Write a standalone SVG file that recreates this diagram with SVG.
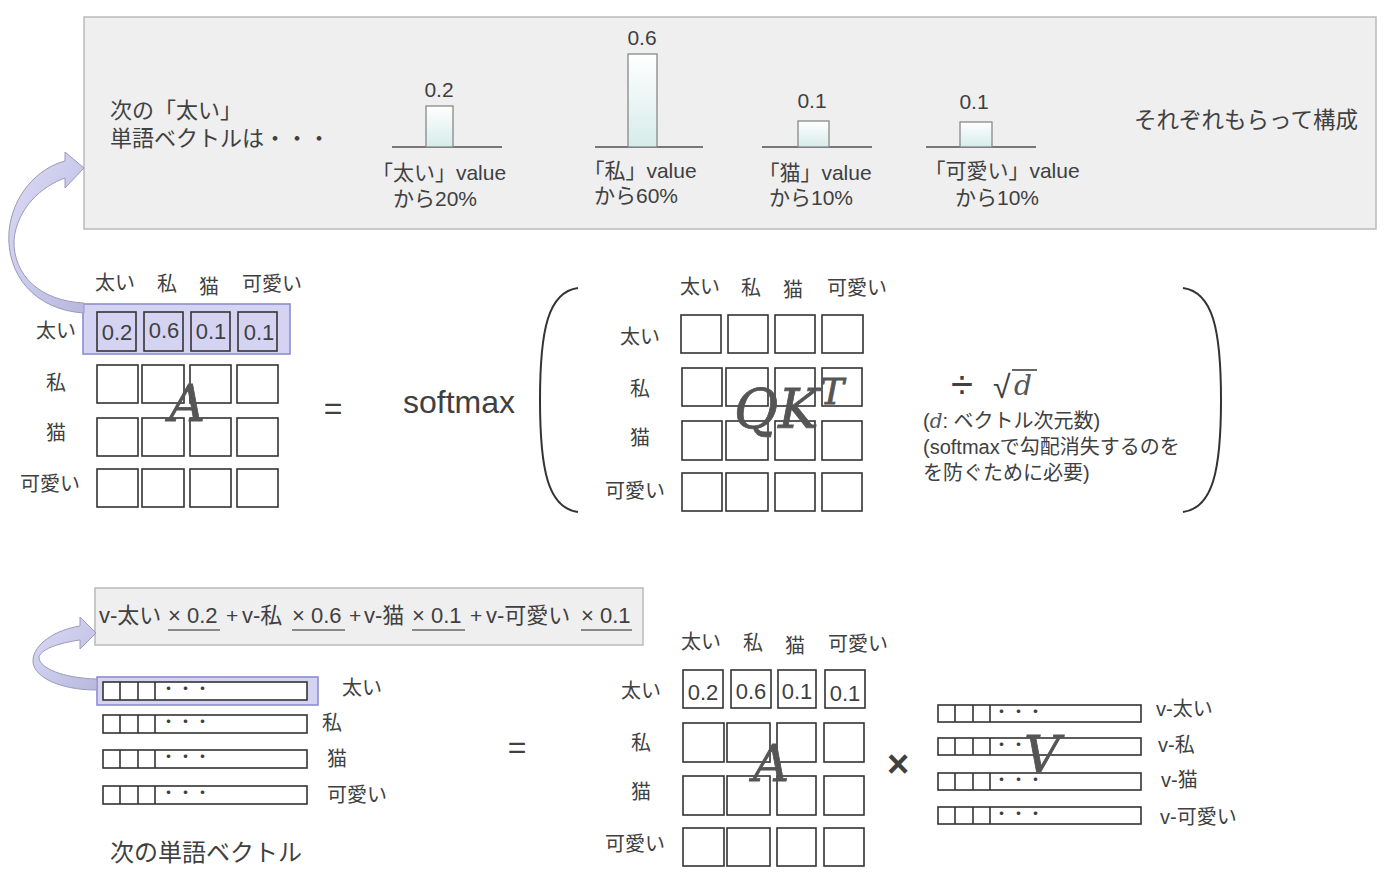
<svg xmlns="http://www.w3.org/2000/svg" width="1400" height="889" viewBox="0 0 1400 889">
<defs>
<linearGradient id="barg" x1="0" y1="0" x2="0" y2="1">
<stop offset="0" stop-color="#ffffff"/>
<stop offset="1" stop-color="#d6ecea"/>
</linearGradient>
<linearGradient id="arrg" x1="0" y1="0" x2="1" y2="1">
<stop offset="0" stop-color="#dcdcf6"/>
<stop offset="1" stop-color="#b8b8e0"/>
</linearGradient>
<style>
text{font-family:"Liberation Sans","Noto Sans CJK JP",sans-serif;fill:#404040;}
.t20{font-size:20px;}
.t21{font-size:21px;}
.t22{font-size:22px;}
.mid{text-anchor:middle;}
.math{font-family:"DejaVu Serif","Liberation Serif",serif;font-style:italic;fill:#555;}
.big{stroke:#555;stroke-width:0.8;}
.plus{font-size:21px;}
.cell{fill:#fff;stroke:#333;stroke-width:1.6;}
.hcell{fill:#d4d4f2;stroke:#333;stroke-width:1.6;}
.hl{fill:#d4d4f2;stroke:#8c8cd0;stroke-width:1.6;}
.bar{fill:url(#barg);stroke:#888;stroke-width:1.3;}
.base{stroke:#777;stroke-width:2;}
.vec{fill:#fff;stroke:#333;stroke-width:1.6;}
.vdiv{stroke:#333;stroke-width:1.6;}
.dots{font-size:17px;}
.paren{fill:none;stroke:#333;stroke-width:2;}
.ul{stroke:#666;stroke-width:1.6;}
.arrow{fill:url(#arrg);stroke:#9a9ab8;stroke-width:1;}
</style>
</defs>

<g id="top-panel">
<rect x="84" y="17" width="1292" height="212" fill="#efefef" stroke="#bbb" stroke-width="1.5"/>
<text class="t22" x="110" y="118">次の「太い」</text>
<text class="t22" x="110" y="146">単語ベクトルは・・・</text>
<text x="1134" y="128" font-size="22.5">それぞれもらって構成</text>
</g>

<g id="bar-futoi">
<line class="base" x1="392" y1="147" x2="502" y2="147"/>
<rect class="bar" x="426" y="106" width="27" height="41"/>
<text class="t21 mid" x="439" y="97">0.2</text>
<text class="t21 mid" x="439" y="180">「太い」value</text>
<text class="t21 mid" x="435" y="206">から20%</text>
</g>
<g id="bar-watashi">
<line class="base" x1="595" y1="147" x2="703" y2="147"/>
<rect class="bar" x="628" y="54" width="29" height="93"/>
<text class="t21 mid" x="642" y="45">0.6</text>
<text class="t21 mid" x="640" y="178">「私」value</text>
<text class="t21 mid" x="636" y="203">から60%</text>
</g>
<g id="bar-neko">
<line class="base" x1="762" y1="147" x2="872" y2="147"/>
<rect class="bar" x="798" y="121" width="31" height="26"/>
<text class="t21 mid" x="812" y="108">0.1</text>
<text class="t21 mid" x="815" y="180">「猫」value</text>
<text class="t21 mid" x="811" y="205">から10%</text>
</g>
<g id="bar-kawaii">
<line class="base" x1="926" y1="147" x2="1036" y2="147"/>
<rect class="bar" x="960" y="122" width="32" height="25"/>
<text class="t21 mid" x="974" y="109">0.1</text>
<text class="t21 mid" x="1002" y="178">「可愛い」value</text>
<text class="t21 mid" x="997" y="205">から10%</text>
</g>

<g id="matrix-A-top">
<rect class="hl" x="83" y="304" width="207" height="50"/>
<text class="t20 mid" x="115" y="290">太い</text>
<text class="t20 mid" x="167" y="291">私</text>
<text class="t20 mid" x="209" y="294">猫</text>
<text class="t20 mid" x="272" y="291">可愛い</text>
<text class="t20 mid" x="56" y="338">太い</text>
<text class="t20 mid" x="56" y="390">私</text>
<text class="t20 mid" x="56" y="440">猫</text>
<text class="t20 mid" x="50" y="491">可愛い</text>
<rect class="hcell" x="97" y="312" width="39" height="39"/>
<rect class="hcell" x="144" y="312" width="39" height="39"/>
<rect class="hcell" x="191" y="312" width="39" height="39"/>
<rect class="hcell" x="238" y="312" width="39" height="39"/>
<text class="t22 mid" x="117" y="340">0.2</text>
<text class="t22 mid" x="164" y="338">0.6</text>
<text class="t22 mid" x="211" y="339">0.1</text>
<text class="t22 mid" x="259" y="340">0.1</text>
<rect class="cell" x="97" y="365" width="41" height="38"/>
<rect class="cell" x="142" y="365" width="42" height="38"/>
<rect class="cell" x="190" y="365" width="41" height="38"/>
<rect class="cell" x="237" y="365" width="41" height="38"/>
<rect class="cell" x="97" y="418" width="41" height="38"/>
<rect class="cell" x="142" y="418" width="42" height="38"/>
<rect class="cell" x="190" y="418" width="41" height="38"/>
<rect class="cell" x="237" y="418" width="41" height="38"/>
<rect class="cell" x="97" y="469" width="41" height="38"/>
<rect class="cell" x="142" y="469" width="42" height="38"/>
<rect class="cell" x="190" y="469" width="41" height="38"/>
<rect class="cell" x="237" y="469" width="41" height="38"/>
<text class="math big mid" x="187" y="421" font-size="50">A</text>
</g>

<g id="softmax-eq">
<text class="mid" x="333" y="419" font-size="32">=</text>
<text x="403" y="413" font-size="32">softmax</text>
<path class="paren" d="M578,288 C548,292 540,330 540,400 C540,470 548,508 578,512"/>
<path class="paren" d="M1183,288 C1213,292 1221,330 1221,400 C1221,470 1213,508 1183,512"/>
</g>

<g id="matrix-QKT">
<text class="t20 mid" x="700" y="294">太い</text>
<text class="t20 mid" x="751" y="295">私</text>
<text class="t20 mid" x="793" y="297">猫</text>
<text class="t20 mid" x="857" y="295">可愛い</text>
<text class="t20 mid" x="640" y="344">太い</text>
<text class="t20 mid" x="640" y="396">私</text>
<text class="t20 mid" x="640" y="445">猫</text>
<text class="t20 mid" x="635" y="498">可愛い</text>
<rect class="cell" x="681" y="315" width="40" height="38"/>
<rect class="cell" x="728" y="315" width="40" height="38"/>
<rect class="cell" x="775" y="315" width="40" height="38"/>
<rect class="cell" x="822" y="315" width="41" height="38"/>
<rect class="cell" x="682" y="368" width="40" height="38"/>
<rect class="cell" x="726" y="368" width="42" height="38"/>
<rect class="cell" x="775" y="368" width="40" height="38"/>
<rect class="cell" x="822" y="368" width="40" height="38"/>
<rect class="cell" x="682" y="421" width="40" height="39"/>
<rect class="cell" x="726" y="421" width="42" height="39"/>
<rect class="cell" x="775" y="421" width="40" height="39"/>
<rect class="cell" x="822" y="421" width="40" height="39"/>
<rect class="cell" x="682" y="473" width="40" height="38"/>
<rect class="cell" x="726" y="473" width="42" height="38"/>
<rect class="cell" x="775" y="473" width="40" height="38"/>
<rect class="cell" x="822" y="473" width="40" height="38"/>
<text class="math big" x="734" y="428" font-size="54">QK</text>
<text class="math big" x="820" y="404" font-size="36">T</text>
</g>

<g id="scale-note">
<text class="mid" x="962" y="398" font-size="40" font-family="Liberation Sans, sans-serif">÷</text>
<text x="993" y="398" font-size="32" font-family="DejaVu Sans, sans-serif">√</text>
<line x1="1012" y1="370" x2="1037" y2="370" stroke="#404040" stroke-width="1.6"/>
<text class="math" x="1014" y="395" font-size="28">d</text>
<text class="t20" x="923" y="428">(<tspan class="math">d</tspan>: ベクトル次元数)</text>
<text class="t20" x="923" y="454">(softmaxで勾配消失するのを</text>
<text class="t20" x="923" y="480">を防ぐために必要)</text>
</g>

<g id="formula-box">
<rect x="95" y="588" width="548" height="57" fill="#efefef" stroke="#bbb" stroke-width="1.5"/>
<text class="t22" y="623"><tspan x="99">v-太い</tspan><tspan x="168">× 0.2</tspan><tspan class="plus" x="226">+</tspan><tspan x="242">v-私</tspan><tspan x="292">× 0.6</tspan><tspan class="plus" x="349">+</tspan><tspan x="364">v-猫</tspan><tspan x="412">× 0.1</tspan><tspan class="plus" x="470">+</tspan><tspan x="486">v-可愛い</tspan><tspan x="581">× 0.1</tspan></text>
<line class="ul" x1="168" y1="630" x2="220" y2="630"/>
<line class="ul" x1="292" y1="630" x2="345" y2="630"/>
<line class="ul" x1="412" y1="630" x2="465" y2="630"/>
<line class="ul" x1="581" y1="630" x2="632" y2="630"/>
</g>

<g id="next-word-vectors">
<rect class="hl" x="97" y="677" width="221" height="28"/>
<rect class="vec" x="103" y="682" width="204" height="18"/>
<line class="vdiv" x1="120" y1="682" x2="120" y2="700"/><line class="vdiv" x1="138" y1="682" x2="138" y2="700"/><line class="vdiv" x1="155" y1="682" x2="155" y2="700"/>
<text class="dots" x="160" y="695">・・・</text>
<rect class="vec" x="103" y="715" width="204" height="18"/>
<line class="vdiv" x1="120" y1="715" x2="120" y2="733"/><line class="vdiv" x1="138" y1="715" x2="138" y2="733"/><line class="vdiv" x1="155" y1="715" x2="155" y2="733"/>
<text class="dots" x="160" y="728">・・・</text>
<rect class="vec" x="103" y="750" width="204" height="18"/>
<line class="vdiv" x1="120" y1="750" x2="120" y2="768"/><line class="vdiv" x1="138" y1="750" x2="138" y2="768"/><line class="vdiv" x1="155" y1="750" x2="155" y2="768"/>
<text class="dots" x="160" y="763">・・・</text>
<rect class="vec" x="103" y="786" width="204" height="18"/>
<line class="vdiv" x1="120" y1="786" x2="120" y2="804"/><line class="vdiv" x1="138" y1="786" x2="138" y2="804"/><line class="vdiv" x1="155" y1="786" x2="155" y2="804"/>
<text class="dots" x="160" y="799">・・・</text>
<text class="t20" x="342" y="695">太い</text>
<text class="t20" x="322" y="730">私</text>
<text class="t20" x="327" y="766">猫</text>
<text class="t20" x="327" y="802">可愛い</text>
<text x="110" y="861" font-size="24">次の単語ベクトル</text>
</g>

<g id="eq-bottom">
<text class="mid" x="517" y="758" font-size="32">=</text>
</g>

<g id="matrix-A-bottom">
<text class="t20 mid" x="701" y="649">太い</text>
<text class="t20 mid" x="753" y="650">私</text>
<text class="t20 mid" x="795" y="653">猫</text>
<text class="t20 mid" x="858" y="651">可愛い</text>
<text class="t20 mid" x="641" y="698">太い</text>
<text class="t20 mid" x="641" y="750">私</text>
<text class="t20 mid" x="641" y="799">猫</text>
<text class="t20 mid" x="635" y="851">可愛い</text>
<rect class="cell" x="683" y="670" width="40" height="38"/>
<rect class="cell" x="731" y="670" width="40" height="38"/>
<rect class="cell" x="778" y="670" width="38" height="38"/>
<rect class="cell" x="825" y="670" width="40" height="38"/>
<text class="t22 mid" x="703" y="700">0.2</text>
<text class="t22 mid" x="751" y="699">0.6</text>
<text class="t22 mid" x="797" y="699">0.1</text>
<text class="t22 mid" x="845" y="701">0.1</text>
<rect class="cell" x="683" y="723" width="41" height="39"/>
<rect class="cell" x="727" y="723" width="43" height="39"/>
<rect class="cell" x="777" y="723" width="39" height="39"/>
<rect class="cell" x="824" y="723" width="40" height="39"/>
<rect class="cell" x="683" y="776" width="41" height="39"/>
<rect class="cell" x="727" y="776" width="43" height="39"/>
<rect class="cell" x="777" y="776" width="39" height="39"/>
<rect class="cell" x="824" y="776" width="40" height="39"/>
<rect class="cell" x="683" y="828" width="41" height="38"/>
<rect class="cell" x="727" y="828" width="43" height="38"/>
<rect class="cell" x="777" y="828" width="39" height="38"/>
<rect class="cell" x="824" y="828" width="40" height="38"/>
<text class="math big mid" x="771" y="781" font-size="50">A</text>
</g>

<g id="times">
<text class="mid" x="898" y="777" font-size="38" font-weight="bold">×</text>
</g>

<g id="matrix-V">
<rect class="vec" x="938" y="705" width="203" height="17"/>
<line class="vdiv" x1="955" y1="705" x2="955" y2="722"/><line class="vdiv" x1="973" y1="705" x2="973" y2="722"/><line class="vdiv" x1="990" y1="705" x2="990" y2="722"/>
<text class="dots" x="993" y="718">・・・</text>
<rect class="vec" x="938" y="738" width="203" height="17"/>
<line class="vdiv" x1="955" y1="738" x2="955" y2="755"/><line class="vdiv" x1="973" y1="738" x2="973" y2="755"/><line class="vdiv" x1="990" y1="738" x2="990" y2="755"/>
<text class="dots" x="993" y="751">・・</text>
<rect class="vec" x="938" y="773" width="203" height="17"/>
<line class="vdiv" x1="955" y1="773" x2="955" y2="790"/><line class="vdiv" x1="973" y1="773" x2="973" y2="790"/><line class="vdiv" x1="990" y1="773" x2="990" y2="790"/>
<text class="dots" x="993" y="786">・・・</text>
<rect class="vec" x="938" y="807" width="203" height="17"/>
<line class="vdiv" x1="955" y1="807" x2="955" y2="824"/><line class="vdiv" x1="973" y1="807" x2="973" y2="824"/><line class="vdiv" x1="990" y1="807" x2="990" y2="824"/>
<text class="dots" x="993" y="820">・・・</text>
<text class="math big mid" x="1042" y="772" font-size="50">V</text>
<text class="t20" x="1156" y="716">v-太い</text>
<text class="t20" x="1158" y="752">v-私</text>
<text class="t20" x="1161" y="787">v-猫</text>
<text class="t20" x="1160" y="824">v-可愛い</text>
</g>

<g id="connectors">
<path class="arrow" d="M84,313 C35,310 6,275 9,232 C12,195 38,168 65,161 L65,152 L84,168 L65,188 L65,178 C42,186 17,208 14,240 C13,275 40,301 84,303 Z"/>
<path class="arrow" d="M97,690 C58,690 32,676 33,660 C34,644 55,630 80,626 L80,617 L96,633 L80,649 L80,640 C58,643 39,650 39,658 C40,668 62,678 97,679 Z"/>
</g>
</svg>
